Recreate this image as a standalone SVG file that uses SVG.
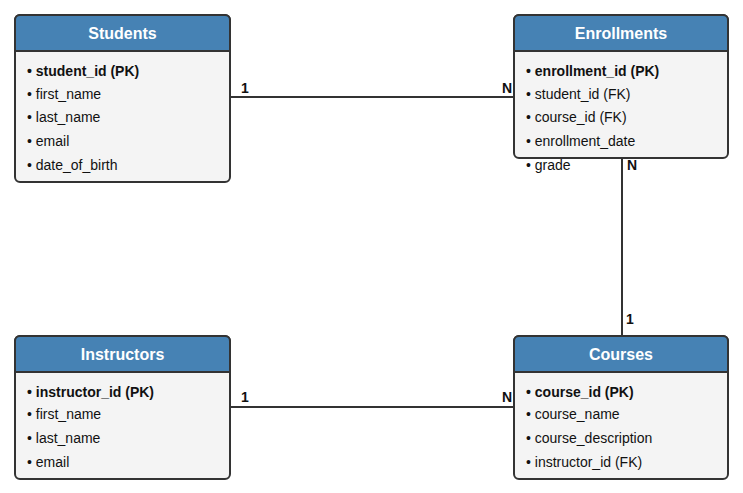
<svg xmlns="http://www.w3.org/2000/svg" width="743" height="493" viewBox="0 0 743 493">
<style>
.box{fill:#f4f4f4;stroke:#333;stroke-width:2}
.hdr{fill:#4682b4;stroke:#333;stroke-width:2}
.title{font-family:"Liberation Sans",Arial,sans-serif;font-size:16px;font-weight:bold;fill:#fff;text-anchor:middle}
.row{font-family:"Liberation Sans",Arial,sans-serif;font-size:14px;fill:#111}
.pk{font-weight:bold}
.conn{stroke:#333;stroke-width:2;fill:none}
.card{font-family:"Liberation Sans",Arial,sans-serif;font-size:14px;font-weight:bold;fill:#111}
</style>
<rect width="743" height="493" fill="#fff"/>
<g id="connectors">
<line class="conn" x1="230" y1="97" x2="514" y2="97"/>
<line class="conn" x1="622" y1="158" x2="622" y2="336"/>
<line class="conn" x1="230" y1="407" x2="514" y2="407"/>
<text class="card" x="241" y="93">1</text>
<text class="card" x="502" y="93">N</text>
<text class="card" x="627" y="170">N</text>
<text class="card" x="626" y="324">1</text>
<text class="card" x="241" y="402">1</text>
<text class="card" x="502" y="402">N</text>
</g>
<g id="students">
<rect class="box" x="15" y="15" width="215" height="167" rx="5"/>
<path class="hdr" d="M15,51 V20 a5,5 0 0 1 5,-5 H225 a5,5 0 0 1 5,5 V51 Z"/>
<text class="title" x="122.5" y="39">Students</text>
<text class="row pk" x="27" y="76">• student_id (PK)</text>
<text class="row" x="27" y="99">• first_name</text>
<text class="row" x="27" y="122">• last_name</text>
<text class="row" x="27" y="146">• email</text>
<text class="row" x="27" y="170">• date_of_birth</text>
</g>
<g id="enrollments">
<rect class="box" x="514" y="15" width="214" height="143" rx="5"/>
<path class="hdr" d="M514,51 V20 a5,5 0 0 1 5,-5 H723 a5,5 0 0 1 5,5 V51 Z"/>
<text class="title" x="621" y="39">Enrollments</text>
<text class="row pk" x="526" y="76">• enrollment_id (PK)</text>
<text class="row" x="526" y="99">• student_id (FK)</text>
<text class="row" x="526" y="122">• course_id (FK)</text>
<text class="row" x="526" y="146">• enrollment_date</text>
<text class="row" x="526" y="170">• grade</text>
</g>
<g id="instructors">
<rect class="box" x="15" y="336" width="215" height="143" rx="5"/>
<path class="hdr" d="M15,372 V341 a5,5 0 0 1 5,-5 H225 a5,5 0 0 1 5,5 V372 Z"/>
<text class="title" x="122.5" y="360">Instructors</text>
<text class="row pk" x="27" y="397">• instructor_id (PK)</text>
<text class="row" x="27" y="419">• first_name</text>
<text class="row" x="27" y="443">• last_name</text>
<text class="row" x="27" y="467">• email</text>
</g>
<g id="courses">
<rect class="box" x="514" y="336" width="214" height="143" rx="5"/>
<path class="hdr" d="M514,372 V341 a5,5 0 0 1 5,-5 H723 a5,5 0 0 1 5,5 V372 Z"/>
<text class="title" x="621" y="360">Courses</text>
<text class="row pk" x="526" y="397">• course_id (PK)</text>
<text class="row" x="526" y="419">• course_name</text>
<text class="row" x="526" y="443">• course_description</text>
<text class="row" x="526" y="467">• instructor_id (FK)</text>
</g>
</svg>
